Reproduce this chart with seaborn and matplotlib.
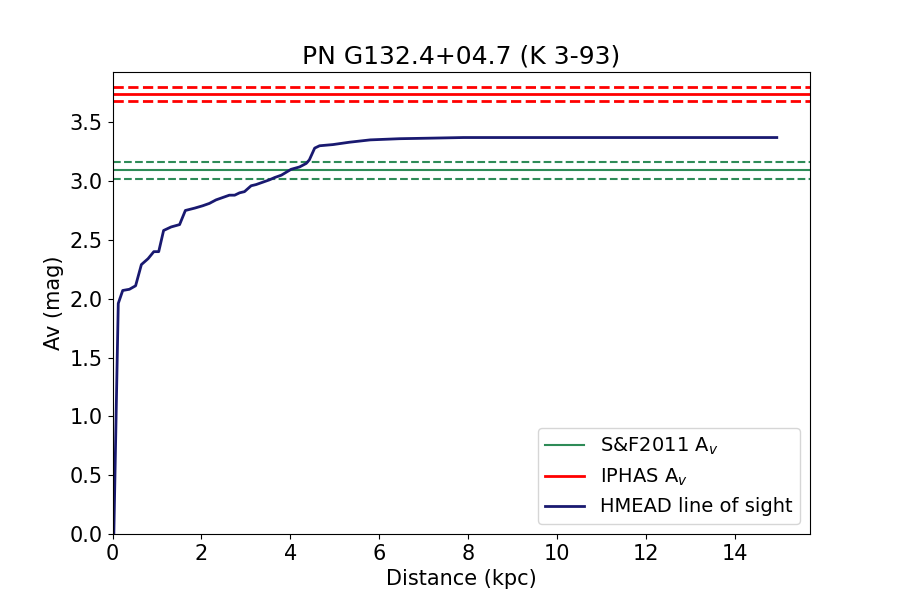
import matplotlib
matplotlib.use('Agg')
import matplotlib.pyplot as plt
import seaborn as sns
import pandas as pd

# line of sight extinction
distance = [0.03, 0.13, 0.23, 0.38, 0.52, 0.65, 0.80, 0.93, 1.04, 1.15, 1.32, 1.51,
            1.64, 1.85, 2.03, 2.18, 2.33, 2.48, 2.63, 2.75, 2.86, 2.97, 3.12, 3.23,
            3.38, 3.53, 3.65, 3.80, 4.02, 4.21, 4.36, 4.43, 4.55, 4.66, 4.96, 5.33,
            5.8, 6.46, 7.2, 7.9, 9.0, 10.0, 11.0, 12.0, 13.0, 14.0, 14.95]
av = [0.0, 1.96, 2.07, 2.08, 2.11, 2.29, 2.34, 2.40, 2.40, 2.58, 2.61, 2.63,
      2.75, 2.77, 2.79, 2.81, 2.84, 2.86, 2.88, 2.88, 2.90, 2.91, 2.96, 2.97,
      2.99, 3.01, 3.03, 3.05, 3.10, 3.12, 3.15, 3.18, 3.28, 3.30, 3.31, 3.33,
      3.35, 3.36, 3.365, 3.37, 3.37, 3.37, 3.37, 3.37, 3.37, 3.37, 3.37]

sf_av, sf_err = 3.09, 0.07
iphas_av, iphas_err = 3.74, 0.06

los = pd.DataFrame({'Distance': distance, 'Av': av})

plt.rcParams['font.size'] = 15
fig, ax = plt.subplots(figsize=(9, 6), dpi=100)

# S&F2011
ax.axhline(sf_av, color='seagreen', lw=1.5, label='S&F2011 A$_v$')
ax.axhline(sf_av + sf_err, color='seagreen', lw=1.5, ls='--')
ax.axhline(sf_av - sf_err, color='seagreen', lw=1.5, ls='--')

# IPHAS
ax.axhline(iphas_av, color='red', lw=2, label='IPHAS A$_v$')
ax.axhline(iphas_av + iphas_err, color='red', lw=2, ls='--')
ax.axhline(iphas_av - iphas_err, color='red', lw=2, ls='--')

sns.lineplot(x='Distance', y='Av', data=los, ax=ax, color='midnightblue', lw=2,
             label='HMEAD line of sight')

ax.set_xlim(0, max(distance) * 1.05)
ax.set_ylim(0, iphas_av * 1.05)
ax.set_xlabel('Distance (kpc)')
ax.set_ylabel('Av (mag)')
ax.set_title('PN G132.4+04.7 (K 3-93)', fontsize=18)
ax.legend(loc='lower right', fontsize=14)

plt.savefig('out.png')
